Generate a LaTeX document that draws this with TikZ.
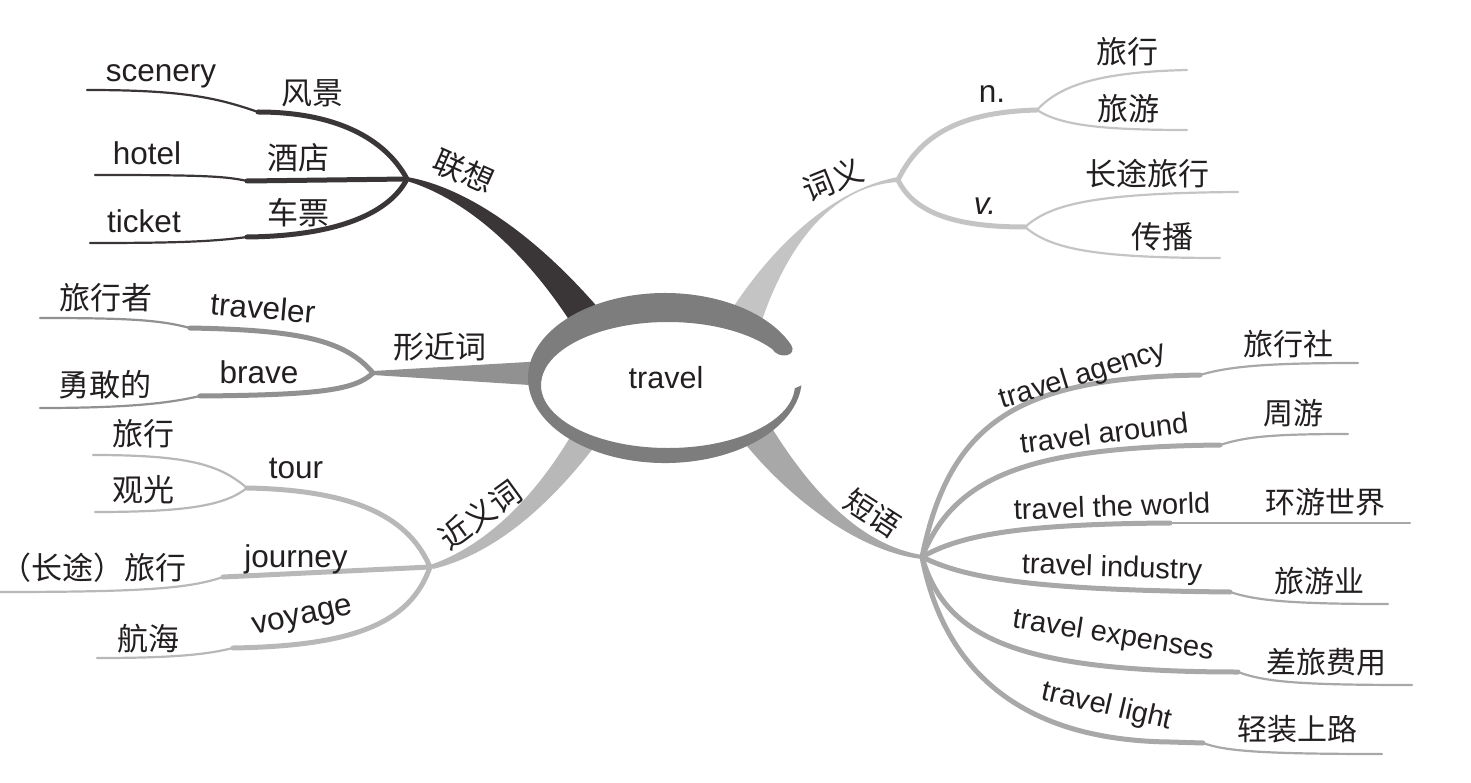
\documentclass[tikz,border=0pt]{standalone}
\usepackage{fontspec}
\setmainfont{Liberation Sans}
\newfontfamily\cjk{Noto Sans CJK SC}
\definecolor{txt}{RGB}{35,31,32}
\definecolor{cA}{RGB}{58,53,54}
\definecolor{cB}{RGB}{145,145,145}
\definecolor{cC}{RGB}{184,184,184}
\definecolor{cD}{RGB}{196,196,196}
\definecolor{cE}{RGB}{168,168,168}
\definecolor{ringc}{RGB}{125,125,125}
\begin{document}
\begin{tikzpicture}[x=1pt,y=-1pt,
  en/.style={font=\fontsize{29}{34}\selectfont,text=txt,inner sep=0pt,anchor=base},
  enL/.style={font=\fontsize{31.5}{36}\selectfont,text=txt,inner sep=0pt,anchor=base},
  zh/.style={font=\cjk\fontsize{30}{36}\selectfont,text=txt,inner sep=0pt},
  zhL/.style={font=\cjk\fontsize{31}{36}\selectfont,text=txt,inner sep=0pt},
  major/.style={line width=5pt,line cap=round},
  minor/.style={line width=2.2pt,line cap=round}]
\useasboundingbox (0,0) rectangle (1471,783);

% ---------- junctions and kink points ----------
\coordinate (jA) at (407,179);
\coordinate (kA1) at (258,112); \coordinate (eA1) at (87,90);
\coordinate (kA2) at (247,181); \coordinate (eA2) at (95,175);
\coordinate (kA3) at (247,237); \coordinate (eA3) at (90,243);

\coordinate (jB) at (373,373);
\coordinate (kB1) at (190,328); \coordinate (eB1) at (40,318);
\coordinate (kB2) at (200,396); \coordinate (eB2) at (40,408);

\coordinate (jC) at (430,567);
\coordinate (kC1) at (247,488); \coordinate (eC1a) at (93,455); \coordinate (eC1b) at (95,512);
\coordinate (kC2) at (223,577); \coordinate (eC2) at (0,592);
\coordinate (kC3) at (233,648); \coordinate (eC3) at (97,658);

\coordinate (jD) at (898,180);
\coordinate (kD1) at (1037,110); \coordinate (eD1a) at (1187,70); \coordinate (eD1b) at (1187,130);
\coordinate (kD2) at (1025,227); \coordinate (eD2a) at (1238,192); \coordinate (eD2b) at (1220,258);

\coordinate (jE) at (922,557);
\coordinate (kE1) at (1200,375); \coordinate (eE1) at (1358,363);
\coordinate (kE2) at (1220,445); \coordinate (eE2) at (1348,434);
\coordinate (kE3) at (1170,523); \coordinate (eE3) at (1410,523);
\coordinate (kE4) at (1230,592); \coordinate (eE4) at (1388,604);
\coordinate (kE5) at (1238,672); \coordinate (eE5) at (1412,685);
\coordinate (kE6) at (1170,742); \coordinate (mE6) at (1203,743); \coordinate (eE6) at (1382,754);

% ---------- sub branches ----------
\draw[major,cA] (jA) .. controls (385,138) and (335,112) .. (kA1);
\draw[minor,cA] (kA1) .. controls (215,97) and (180,90) .. (eA1);
\draw[major,cA] (jA) -- (kA2);
\draw[minor,cA] (kA2) .. controls (225,176) and (200,175) .. (eA2);
\draw[major,cA] (jA) .. controls (390,212) and (340,236) .. (kA3);
\draw[minor,cA] (kA3) .. controls (210,242) and (170,243) .. (eA3);

\draw[major,cB] (jB) .. controls (345,340) and (300,330) .. (kB1);
\draw[minor,cB] (kB1) .. controls (160,320) and (130,318) .. (eB1);
\draw[major,cB] (jB) .. controls (355,390) and (320,395) .. (kB2);
\draw[minor,cB] (kB2) .. controls (170,403) and (130,408) .. (eB2);

\draw[major,cC] (jC) .. controls (410,520) and (360,490) .. (kC1);
\draw[minor,cC] (kC1) .. controls (220,465) and (190,455) .. (eC1a);
\draw[minor,cC] (kC1) .. controls (225,505) and (190,512) .. (eC1b);
\draw[major,cC] (jC) -- (kC2);
\draw[minor,cC] (kC2) .. controls (190,588) and (150,592) .. (eC2);
\draw[major,cC] (jC) .. controls (410,625) and (350,646) .. (kC3);
\draw[minor,cC] (kC3) .. controls (205,655) and (170,658) .. (eC3);

\draw[major,cD] (jD) .. controls (920,135) and (960,112) .. (kD1);
\draw[minor,cD] (kD1) .. controls (1060,85) and (1100,72) .. (eD1a);
\draw[minor,cD] (kD1) .. controls (1060,125) and (1100,130) .. (eD1b);
\draw[major,cD] (jD) .. controls (915,215) and (960,227) .. (kD2);
\draw[minor,cD] (kD2) .. controls (1050,205) and (1090,193) .. (eD2a);
\draw[minor,cD] (kD2) .. controls (1050,248) and (1090,258) .. (eD2b);

\draw[major,cE] (jE) .. controls (950,420) and (1020,378) .. (kE1);
\draw[minor,cE] (kE1) .. controls (1230,366) and (1270,363) .. (eE1);
\draw[major,cE] (jE) .. controls (955,475) and (1030,447) .. (kE2);
\draw[minor,cE] (kE2) .. controls (1245,437) and (1270,434) .. (eE2);
\draw[major,cE] (jE) .. controls (960,535) and (1020,524) .. (kE3);
\draw[minor,cE] (kE3) -- (eE3);
\draw[major,cE] (jE) .. controls (965,578) and (1030,590) .. (kE4);
\draw[minor,cE] (kE4) .. controls (1255,600) and (1285,604) .. (eE4);
\draw[major,cE] (jE) .. controls (945,635) and (1010,672) .. (kE5);
\draw[minor,cE] (kE5) .. controls (1265,682) and (1300,685) .. (eE5);
\draw[major,cE] (jE) .. controls (940,650) and (1000,740) .. (kE6) -- (mE6);
\draw[minor,cE] (mE6) .. controls (1225,751) and (1260,754) .. (eE6);

% ---------- main tapered branches ----------
\fill[cA] (407,177) .. controls (470,188) and (540,240) .. (600,310) -- (573,326)
   .. controls (530,258) and (470,200) .. (407,181) -- cycle;
\fill[cB] (373,371) -- (545,361) -- (545,386) -- (373,375) -- cycle;
\fill[cC] (430,565) .. controls (480,548) and (530,505) .. (572,434) -- (598,442)
   .. controls (545,512) and (490,555) .. (433,569) -- cycle;
\fill[cD] (898,177) .. controls (840,188) and (780,235) .. (730,312) -- (762,320)
   .. controls (795,225) and (845,185) .. (898,182) -- cycle;
\fill[cE] (770,425) .. controls (810,490) and (860,545) .. (922,555) -- (922,559)
   .. controls (860,552) and (790,500) .. (742,440) -- cycle;

% ---------- central ring ----------
\fill[white] (668,385) ellipse[x radius=127,y radius=63];
\fill[ringc] (791.1,344.8) arc[start angle=-23,end angle=-355,x radius=137,y radius=85]
   -- (794.8,388.3) arc[start angle=-357,end angle=-35,x radius=127,y radius=63]
   .. controls (779,360) and (798,356) .. (791.1,344.8) -- cycle;
\node[en,font=\fontsize{30.5}{36}\selectfont] (center) at (666,388) {travel};

% ---------- labels: 联想 ----------
\node[zhL,rotate=-24] (lxA) at (464,171) {联想};
\node[enL] (sc) at (161,82) {scenery};
\node[zhL] (fj) at (312,93) {风景};
\node[enL] (ht) at (147,165) {hotel};
\node[zhL] (jd) at (298,158) {酒店};
\node[enL] (tk) at (144,233) {ticket};
\node[zhL] (cp) at (298,213) {车票};

% ---------- labels: 形近词 ----------
\node[zhL] (xjc) at (440,347) {形近词};
\node[zhL] (lxz) at (106,298) {旅行者};
\node[enL,rotate=-5] (tv) at (262,319) {traveler};
\node[enL] (br) at (259,383) {brave};
\node[zhL] (ygd) at (105,385) {勇敢的};

% ---------- labels: 近义词 ----------
\node[zhL,rotate=36] (jyc) at (480,515) {近义词};
\node[zhL] (lx1) at (143,434) {旅行};
\node[zhL] (gg) at (143,490) {观光};
\node[enL] (tr) at (296,478) {tour};
\node[zhL] (ctlx) at (93,568) {（长途）旅行};
\node[enL] (jn) at (296,567) {journey};
\node[enL,rotate=12] (vy) at (304,624) {voyage};
\node[zhL] (hh) at (148,639) {航海};

% ---------- labels: 词义 ----------
\node[zhL,rotate=22] (cy) at (833,180) {词义};
\node[enL] (nn) at (992,103) {n.};
\node[zhL] (lx2) at (1127,52) {旅行};
\node[zhL] (ly) at (1128,109) {旅游};
\node[enL] (vv) at (985,215) {\textit{v.}};
\node[zhL] (ctlx2) at (1147,174) {长途旅行};
\node[zhL] (cb) at (1162,237) {传播};

% ---------- labels: 短语 ----------
\node[zh,rotate=-33] (dy) at (873,513) {短语};
\node[en,rotate=17,anchor=center] (ta) at (1083,376) {travel agency};
\node[zh] (lxs) at (1288,344) {旅行社};
\node[en,rotate=7,anchor=center] (tar) at (1104,433) {travel around};
\node[zh] (zy) at (1293,413) {周游};
\node[en,rotate=2,anchor=center] (tw) at (1112,506) {travel the world};
\node[zh] (hysj) at (1325,502) {环游世界};
\node[en,rotate=-2,anchor=center] (ti) at (1112,569) {travel industry};
\node[zh] (lyy) at (1319,581) {旅游业};
\node[en,rotate=-9,anchor=center] (te) at (1113,636) {travel expenses};
\node[zh] (clfy) at (1326,662) {差旅费用};
\node[en,rotate=-13,anchor=center] (tl) at (1107,707) {travel light};
\node[zh] (qzsl) at (1297,729) {轻装上路};
\end{tikzpicture}
\end{document}
